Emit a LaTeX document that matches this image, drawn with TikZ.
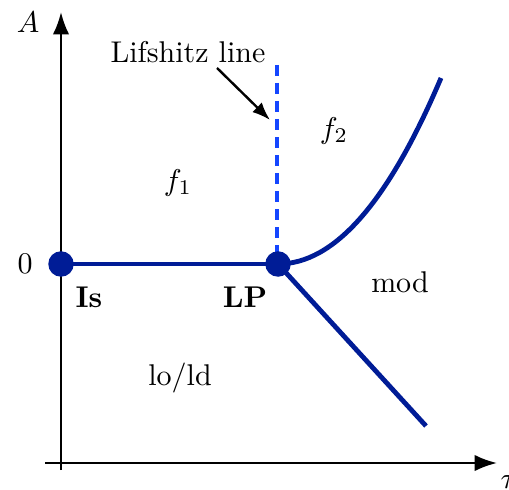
\documentclass[tikz,border=0pt]{standalone}
\usetikzlibrary{arrows.meta}
\definecolor{dblue}{RGB}{0,28,150}
\definecolor{bblue}{RGB}{20,70,255}
\begin{document}
\begin{tikzpicture}[x=0.3333pt,y=-0.3333pt,
  axis/.style={line width=0.8pt,-{Latex[length=7.5pt,width=5.5pt]}},
  phase/.style={line width=1.6pt,dblue},
  lifline/.style={line width=1.6pt,bblue,dash pattern=on 3.7pt off 2.3pt},
  dot/.style={circle,fill=dblue,inner sep=0pt,minimum size=8.5pt},
  lbl/.style={inner sep=0pt}]
\useasboundingbox (0,0) rectangle (509,489);
% axes
\coordinate (yb) at (61,470);
\coordinate (yt) at (61,12);
\coordinate (xl) at (45,463);
\coordinate (xr) at (497,463);
\draw[axis] (yb) -- (yt);
\draw[axis] (xl) -- (xr);
\node[lbl] (Alab) at (28,22) {$A$};
\node[lbl,anchor=west] (xlab) at (500,482) {$\tau$};
\node[lbl] (zero) at (25,264) {$0$};
% points
\coordinate (top) at (277,65);
\coordinate (cend) at (441,78);
\coordinate (lend) at (426,426);
\draw[lifline] (top) -- (277,264);
\draw[phase] (61,264) -- (278,264);
\draw[phase] (278,264) .. controls (334,264) and (388,203) .. (cend);
\draw[phase] (278,264) -- (lend);
\node[dot] (Is) at (61,264) {};
\node[dot] (LP) at (278,264) {};
\node[lbl] (Islab) at (89,297) {\textbf{Is}};
\node[lbl] (LPlab) at (245,297) {\textbf{LP}};
\node[lbl] (f1) at (178,183) {$f_1$};
\node[lbl] (f2) at (334,131) {$f_2$};
\node[lbl] (mod) at (400,282) {mod};
\node[lbl] (lold) at (180,378) {lo/ld};
\node[lbl] (lif) at (188,52) {Lifshitz line};
\coordinate (arrtip) at (270,120);
\draw[line width=0.8pt,-{Latex[length=6pt,width=4.5pt]}] (217,68) -- (arrtip);
\end{tikzpicture}
\end{document}
